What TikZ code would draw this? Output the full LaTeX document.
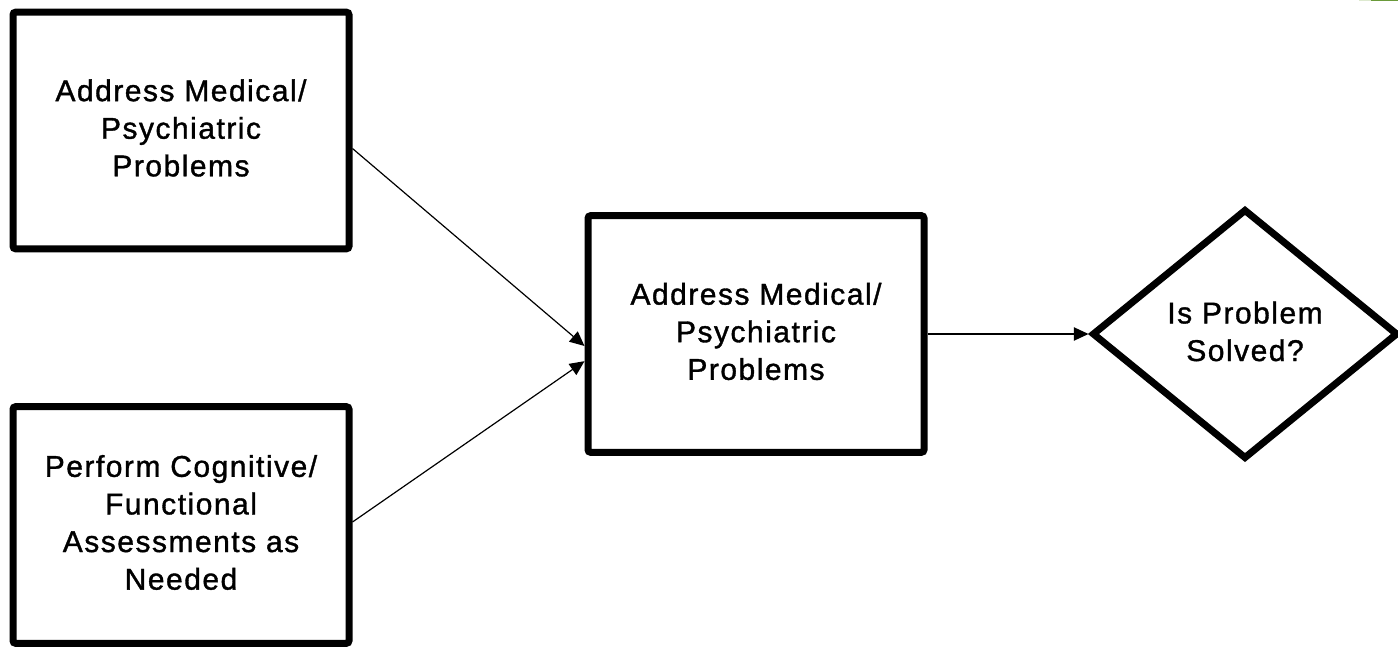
\documentclass[tikz,border=0pt]{standalone}
\usepackage{fontspec}
\setmainfont{Liberation Sans}[LetterSpace=5,FakeBold=1.2]
\usetikzlibrary{shapes.geometric,arrows.meta}
\definecolor{bargreen}{HTML}{6A9A3A}
\definecolor{barlight}{HTML}{DDE9CF}
\tikzset{
  boxtext/.style={align=center, inner sep=0pt, text depth=4pt, font=\fontsize{22.5}{28.2}\selectfont},
  stepbox/.style={boxtext, draw=black, line width=5.25pt, rounded corners=2pt, minimum width=252pt, minimum height=177.5pt},
  decision/.style={boxtext, diamond, draw=black, line width=5.25pt, minimum width=229.5pt, minimum height=187.5pt, aspect=1.22},
  conn/.style={line width=0.9pt, -{Triangle[length=11pt,width=10pt]}}
}
\begin{document}
\begin{tikzpicture}[x=0.75pt,y=-0.75pt]
\useasboundingbox (0,0) rectangle (1398,648);
\node[stepbox] (b1) at (181,130.5) {Address Medical/\\Psychiatric\\Problems};
\node[stepbox] (b2) at (181,525) {Perform Cognitive/\\Functional\\Assessments as\\Needed};
\node[stepbox] (b3) at (756,334) {Address Medical/\\Psychiatric\\Problems};
\node[decision] (d) at (1245,334) {Is Problem\\Solved?};
\draw[conn] (b1.-6) -- (b3.184);
\draw[conn] (b2.1) -- (b3.189);
\draw[conn] (b3.east) -- (d.west);
\fill[barlight] (1359,0) rectangle (1371,1.5);
\fill[bargreen] (1371,0) rectangle (1398,1.5);
\end{tikzpicture}
\end{document}
